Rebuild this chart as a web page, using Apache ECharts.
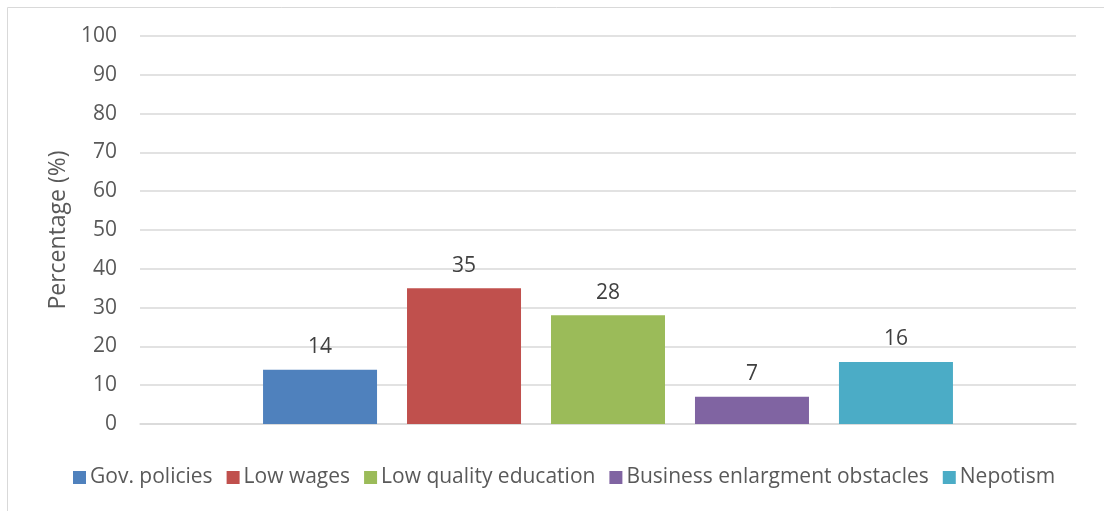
<!DOCTYPE html>
<html><head><meta charset="utf-8">
<script src="https://cdn.jsdelivr.net/npm/echarts@6/dist/echarts.min.js"></script>
<style>html,body{margin:0;padding:0;background:#fff}#c{width:1104px;height:511px}</style>
</head><body><div id="c"></div>
<script>
const categories = [''];
const seriesNames = ['Gov. policies', 'Low wages', 'Low quality education', 'Business enlargment obstacles', 'Nepotism'];
const seriesValues = [14, 35, 28, 7, 16];
const seriesColors = ['#4f81bd', '#c0504d', '#9bbb59', '#8064a2', '#4bacc6'];
const yTicks = [0, 10, 20, 30, 40, 50, 60, 70, 80, 90, 100];

const font = '"Open Sans", "Noto Sans", sans-serif';
const chart = echarts.init(document.getElementById('c'), null, {renderer: 'canvas'});
chart.setOption({
  animation: false,
  textStyle: {fontFamily: font},
  graphic: [{type: 'rect', shape: {x: 7.5, y: 7.5, width: 1110, height: 520}, style: {fill: 'none', stroke: '#d9d9d9', lineWidth: 1}, silent: true}],
  grid: {left: 140, right: 28, top: 36, bottom: 87, containLabel: false},
  legend: {
    bottom: 18, left: 68, itemWidth: 13, itemHeight: 13, itemGap: 14,
    icon: 'rect',
    textStyle: {fontSize: 21, color: '#595959', fontFamily: font, padding: [0, 0, 0, -1]},
    data: seriesNames
  },
  xAxis: {
    type: 'category', data: categories,
    axisLine: {lineStyle: {color: '#d9d9d9', width: 1.5}}, axisTick: {show: false}, axisLabel: {show: false}
  },
  yAxis: {
    type: 'value', min: yTicks[0], max: yTicks[yTicks.length - 1], interval: 10,
    name: 'Percentage (%)', nameLocation: 'middle', nameGap: 68, nameRotate: 90,
    nameTextStyle: {fontSize: 23, color: '#595959', fontFamily: font},
    axisLine: {show: false}, axisTick: {show: false},
    axisLabel: {fontSize: 21, color: '#595959', margin: 23, fontFamily: font},
    splitLine: {lineStyle: {color: '#d9d9d9', width: 1.5}}
  },
  series: seriesNames.map((n, i) => ({
    name: n, type: 'bar', data: [seriesValues[i]],
    barWidth: 114, barGap: '26.3%',
    itemStyle: {color: seriesColors[i]},
    label: {show: true, position: 'top', distance: 12, fontSize: 21, color: '#404040', fontFamily: font}
  }))
});
</script></body></html>
